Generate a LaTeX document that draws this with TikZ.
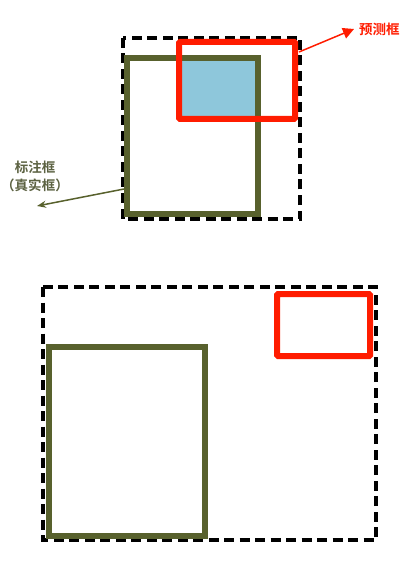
\documentclass[tikz,border=0pt]{standalone}
\usepackage{fontspec}
\newfontfamily\cjk{Noto Sans CJK SC}[BoldFont={Noto Sans CJK SC Bold}]
\usetikzlibrary{arrows.meta, positioning}
\definecolor{gtgreen}{RGB}{88,97,45}
\definecolor{gtlabel}{RGB}{92,98,66}
\definecolor{predred}{RGB}{255,28,0}
\definecolor{overlap}{RGB}{142,199,219}

\begin{document}
\begin{tikzpicture}[x=1pt,y=-1pt,
  hullbox/.style={black,line width=4pt,dash pattern=on 10pt off 5.5pt},
  gtbox/.style={gtgreen,line width=5.5pt},
  predbox/.style={predred,line width=6pt,rounded corners=1pt},
  lbl/.style={font=\cjk\bfseries\fontsize{13.5}{18}\selectfont,align=center,inner sep=5pt}
]
  \useasboundingbox (0,0) rectangle (414,569);

  % overlapping case
  \fill[overlap] (181,58) rectangle (258,119);
  \draw[hullbox] (123,38) rectangle (300,219);
  \draw[gtbox] (127,58) rectangle (258,214);
  \draw[predbox] (179,42) rectangle (295,119);

  \node[lbl,predred,anchor=west] (predlbl) at (354,29) {预测框};
  \node[lbl,gtlabel] (gtlbl) at (35,176) {标注框\\（真实框）};
  \coordinate (predtail) at (299,52);
  \coordinate (gttail) at (124,189);
  \coordinate (gttip) at (37,206);
  \draw[predred,line width=1.5pt,-{Triangle[length=11pt,width=11pt]}] (predtail) -- (predlbl.west);
  \draw[gtgreen,line width=1.5pt,-{Stealth[length=9pt,width=7pt]}] (gttail) -- (gttip);

  % disjoint case
  \draw[hullbox] (43,287) rectangle (376,540);
  \draw[gtbox] (49,347) rectangle (205,536);
  \draw[predbox] (277,294) rectangle (370,356);
\end{tikzpicture}
\end{document}
